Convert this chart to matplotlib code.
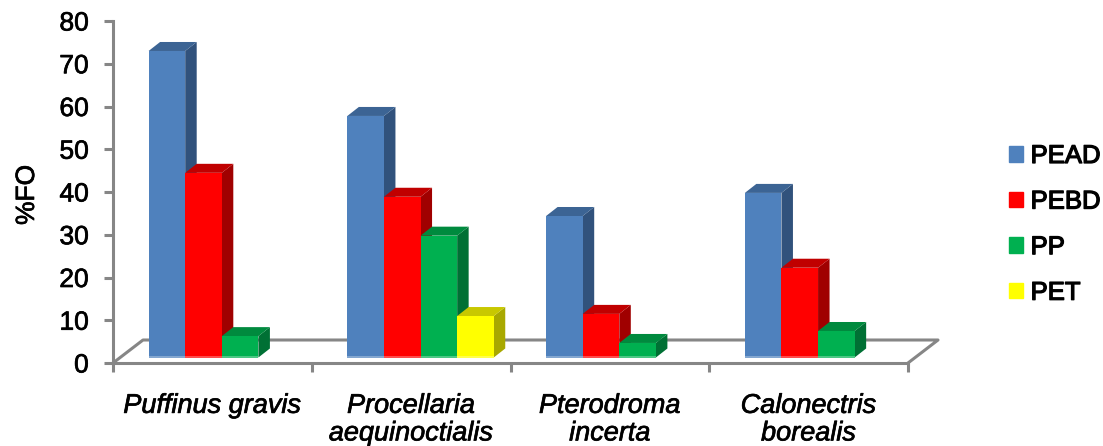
import matplotlib
matplotlib.use('Agg')
import matplotlib.pyplot as plt
import matplotlib.patheffects as pe
from matplotlib.patches import Patch, Polygon
import numpy as np

plt.rcParams['font.family'] = ['Liberation Sans', 'DejaVu Sans']

# data
species = ['Puffinus gravis', 'Procellaria\naequinoctialis', 'Pterodroma\nincerta', 'Calonectris\nborealis']
pead = [71.7, 56.5, 33.1, 38.5]
pebd = [43.2, 37.6, 10.2, 21.0]
pp = [5.0, 28.5, 3.4, 6.2]
pet = [0, 9.7, 0, 0]

series = [pead, pebd, pp, pet]
names = ['PEAD', 'PEBD', 'PP', 'PET']
front = ['#4F81BD', '#FF0000', '#00B050', '#FFFF00']
top_c = ['#3C6494', '#C00000', '#008A3E', '#C8C800']
side_c = ['#31527C', '#A00000', '#007034', '#A8A800']

W, H = 1103, 446
fig = plt.figure(figsize=(W / 100, H / 100), dpi=100)
ax = fig.add_axes([113 / W, (H - 363) / H, 795 / W, 342 / H])
ax.set_xlim(0, 4)
ax.set_ylim(0, 80)

# pixel sizes turned into data units
px_x = 4 / 795
px_y = 80 / 342
depth_x, depth_y = 11.5 * px_x, 9 * px_y
base = 5.5 * px_y
bar_w = 36.6 * px_x
start = 35.6 * px_x

# slightly heavier text, the original is a blurred bitmap
heavy = [pe.withStroke(linewidth=0.5, foreground='black')]

# floor of the 3d box
grey = '#868686'
back_x, back_y = 30 * px_x, 23 * px_y
ax.plot([0, back_x, 4 + back_x, 4], [0, back_y, back_y, 0], color=grey, lw=2.2,
        clip_on=False, zorder=1)

z = 2
for g in range(len(species)):
    for s in range(len(series)):
        v = series[s][g]
        if v == 0:
            continue
        x0 = g + start + s * bar_w
        x1 = x0 + bar_w
        y1 = base + v
        side = [(x1, base), (x1 + depth_x, base + depth_y), (x1 + depth_x, y1 + depth_y), (x1, y1)]
        top = [(x0, y1), (x0 + depth_x, y1 + depth_y), (x1 + depth_x, y1 + depth_y), (x1, y1)]
        ax.add_patch(Polygon(side, closed=True, fc=side_c[s], ec='none', zorder=z, clip_on=False))
        ax.add_patch(Polygon(top, closed=True, fc=top_c[s], ec='none', zorder=z, clip_on=False))
        ax.bar(x0, v, bar_w, bottom=base, align='edge', color=front[s], zorder=z + 0.1)
        # light bevel at the foot of the bar
        ax.bar(x0, 2 * px_y, bar_w, bottom=base, align='edge', color='white', alpha=0.3, zorder=z + 0.2)
        z += 1

for side in ['top', 'right']:
    ax.spines[side].set_visible(False)
for side in ['left', 'bottom']:
    ax.spines[side].set_color(grey)
    ax.spines[side].set_linewidth(2.2)
    ax.spines[side].set_zorder(1)

ax.set_yticks(range(0, 81, 10))
ax.set_xticks(range(5))
ax.set_xticklabels([])
ax.tick_params(axis='both', color=grey, width=2.2, length=6.5)
ax.tick_params(axis='y', labelsize=19, pad=11)
for t in ax.get_yticklabels():
    t.set_path_effects(heavy)

for g, name in enumerate(species):
    ax.annotate(name, (g + 0.5, 0), xycoords=('data', 'axes fraction'), xytext=(0, -21.5),
                textcoords='offset points', ha='center', va='top', fontsize=19.5,
                style='italic', linespacing=1.08, annotation_clip=False, path_effects=heavy)

fig.text(27 / W, 1 - 195 / H, '%FO', rotation=90, ha='center', va='center', fontsize=19, path_effects=heavy)

handles = [Patch(color=c) for c in front]
leg = fig.legend(handles, names, loc='upper left', bbox_to_anchor=(1009 / W, 1 - 144 / H),
                 bbox_transform=fig.transFigure, frameon=False, fontsize=18.5, borderpad=0, borderaxespad=0,
                 handlelength=0.54, handleheight=0.54, handletextpad=0.3, labelspacing=0.84)
for t in leg.get_texts():
    t.set_path_effects([pe.withStroke(linewidth=0.9, foreground='black')])

fig.savefig('out.png', dpi=100)
